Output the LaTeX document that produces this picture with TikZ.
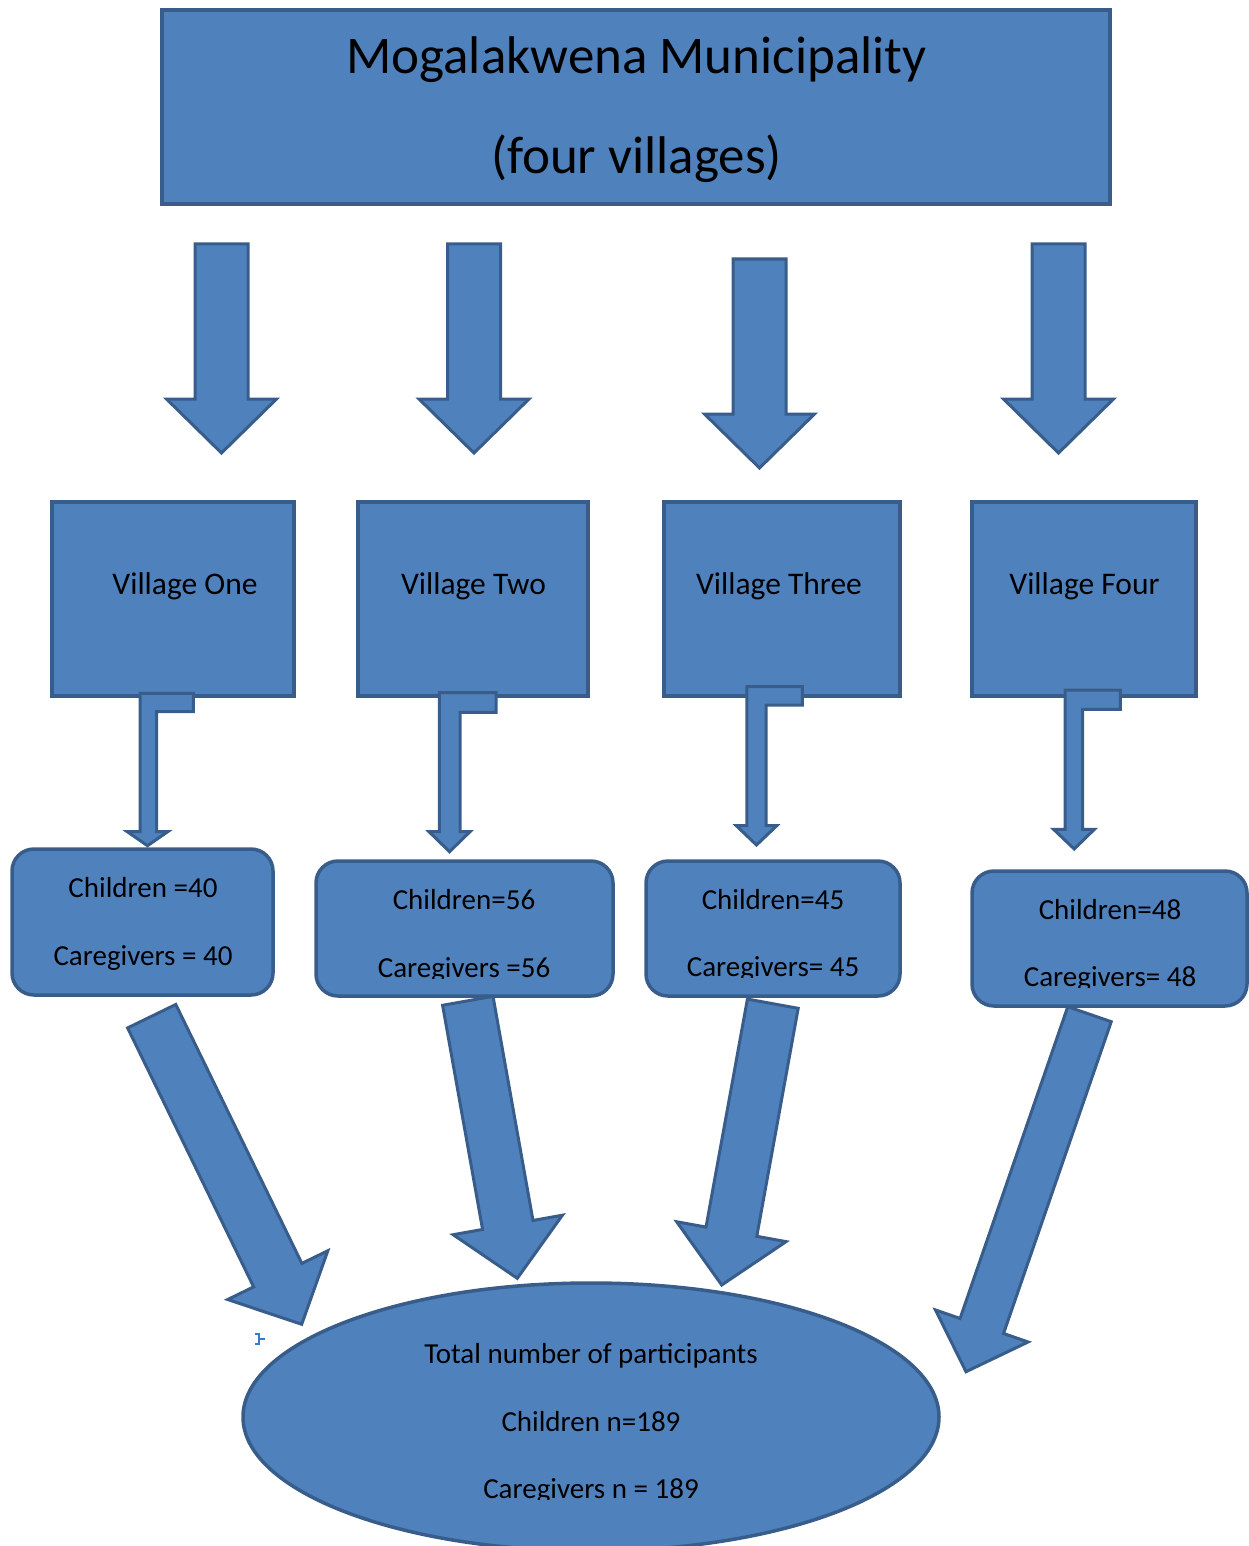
\documentclass[tikz,border=0pt]{standalone}
\usepackage{fontspec}
\setmainfont{Carlito}
\usetikzlibrary{shapes.geometric,calc}
\definecolor{boxfill}{HTML}{4F81BD}
\definecolor{boxline}{HTML}{385D8A}
\definecolor{anchorblue}{HTML}{3C78C8}
\tikzset{
  shapebox/.style={draw=boxline, fill=boxfill, line width=3.5pt, inner sep=0pt, outer sep=0pt},
  titlebox/.style={shapebox, rectangle, minimum width=948pt, minimum height=194pt},
  villagebox/.style={shapebox, rectangle, minimum height=194pt},
  countbox/.style={shapebox, rectangle, rounded corners=22pt, minimum height=135pt},
  totalell/.style={shapebox, ellipse, minimum width=696pt, minimum height=268pt},
  blockarr/.style={draw=boxline, fill=boxfill, line width=3pt, line join=miter},
  txt/.style={anchor=base, inner sep=0pt, text=black},
  bigtxt/.style={txt, font=\fontsize{53}{60}\selectfont},
  midtxt/.style={txt, font=\fontsize{31.5}{36}\selectfont},
  smalltxt/.style={txt, font=\fontsize{29}{34}\selectfont},
}
\newcommand\blockarrow[5]{%
  \coordinate (hb) at ($(#2)!#5!(#1)$);
  \draw[blockarr] ($(#1)!#3!90:(#2)$) -- ($(hb)!#3!90:(#2)$) -- ($(hb)!#4!90:(#2)$) -- (#2)
    -- ($(hb)!#4!-90:(#2)$) -- ($(hb)!#3!-90:(#2)$) -- ($(#1)!#3!-90:(#2)$) -- cycle;}
\begin{document}
\begin{tikzpicture}[x=1pt,y=-1pt]
\clip (0,0) rectangle (1249,1546);
\useasboundingbox (0,0) rectangle (1249,1546);

% title
\node[titlebox] (title) at (636,107) {};
\node[bigtxt] (title1) at (636.5,74) {Mogalakwena Municipality};
\node[bigtxt] (title2) at (636.5,174) {(four villages)};

% top arrows
\coordinate (s1) at (221.5,244); \coordinate (e1) at (221.5,453);
\coordinate (s2) at (474,244);   \coordinate (e2) at (474,453);
\coordinate (s3) at (759.5,259); \coordinate (e3) at (759.5,468);
\coordinate (s4) at (1058.5,244);\coordinate (e4) at (1058.5,453);
\blockarrow{s1}{e1}{26.5pt}{55pt}{54pt}
\blockarrow{s2}{e2}{26.5pt}{55pt}{54pt}
\blockarrow{s3}{e3}{26.5pt}{55pt}{54pt}
\blockarrow{s4}{e4}{26.5pt}{55pt}{54pt}

% village boxes
\node[villagebox, minimum width=242pt] (v1) at (173,599) {};
\node[villagebox, minimum width=230pt] (v2) at (473,599) {};
\node[villagebox, minimum width=236pt] (v3) at (782,599) {};
\node[villagebox, minimum width=224pt] (v4) at (1084,599) {};
\node[midtxt] (v1t) at (185,594) {Village One};
\node[midtxt] (v2t) at (473.5,594) {Village Two};
\node[midtxt] (v3t) at (779,594) {Village Three};
\node[midtxt] (v4t) at (1084.5,594) {Village Four};

% bent arrows
\draw[blockarr] (140,693.3) -- (193.3,693.3) -- (193.3,711.7) -- (156.7,711.7) -- (156.7,831.7)
  -- (167.7,831.7) -- (147.5,845.7) -- (127.3,831.7) -- (140,831.7) -- cycle;
\draw[blockarr] (439.3,692.7) -- (496,692.7) -- (496,712.3) -- (460,712.3) -- (460,831.7)
  -- (470,831.7) -- (449.5,851.7) -- (429,831.7) -- (439.3,831.7) -- cycle;
\draw[blockarr] (746.8,686.7) -- (802.3,686.7) -- (802.3,705) -- (766.2,705) -- (766.2,825.7)
  -- (776.7,825.7) -- (756.5,845) -- (736.3,825.7) -- (746.8,825.7) -- cycle;
\draw[blockarr] (1065.2,690) -- (1120.4,690) -- (1120.4,709.3) -- (1082.7,709.3) -- (1082.7,829.3)
  -- (1094.4,829.3) -- (1074.2,849) -- (1053.6,829.3) -- (1065.2,829.3) -- cycle;

% count boxes
\node[countbox, minimum width=261pt, minimum height=146pt] (c1) at (142.5,922) {};
\node[countbox, minimum width=297pt] (c2) at (464.5,928.5) {};
\node[countbox, minimum width=254pt] (c3) at (773,928.5) {};
\node[countbox, minimum width=275pt] (c4) at (1109.5,938.5) {};

\node[smalltxt] (c1a) at (143,897) {Children =40};
\node[smalltxt] (c1b) at (143,965) {Caregivers = 40};
\node[smalltxt] (c2a) at (464,909) {Children=56};
\begin{scope}
  \clip (320,930) rectangle (610,978);
  \node[smalltxt] (c2b) at (464,977) {Caregivers =56};
\end{scope}
\node[smalltxt] (c3a) at (773,909) {Children=45};
\begin{scope}
  \clip (650,930) rectangle (897,977);
  \node[smalltxt] (c3b) at (773,976) {Caregivers= 45};
\end{scope}
\node[smalltxt] (c4a) at (1110,919) {Children=48};
\begin{scope}
  \clip (976,940) rectangle (1244,987);
  \node[smalltxt] (c4b) at (1110,986) {Caregivers= 48};
\end{scope}

% total ellipse
\node[totalell] (total) at (591,1417) {};
\node[smalltxt] (tot1) at (591,1363) {Total number of participants};
\node[smalltxt] (tot2) at (591,1431) {Children n=189};
\begin{scope}
  \clip (400,1450) rectangle (800,1499);
  \node[smalltxt] (tot3) at (591,1498) {Caregivers n = 189};
\end{scope}

% lower arrows
\coordinate (d1s) at (151.7,1016.2);  \coordinate (d1e) at (301.7,1324.3);
\coordinate (d2s) at (467.8,1000.8);  \coordinate (d2e) at (517.3,1278.3);
\coordinate (d3s) at (772.8,1003.7);  \coordinate (d3e) at (721.7,1285);
\coordinate (d4s) at (1089.5,1014.2); \coordinate (d4e) at (966,1371.7);
\blockarrow{d1s}{d1e}{26.8pt}{55.7pt}{54.7pt}
\blockarrow{d2s}{d2e}{25.6pt}{55.5pt}{54.2pt}
\blockarrow{d3s}{d3e}{25.8pt}{55.6pt}{54.2pt}
\blockarrow{d4s}{d4e}{23pt}{49pt}{48.4pt}

% anchor mark
\draw[anchorblue, line width=1.5pt] (255,1334) -- (259,1334) -- (259,1344) -- (255,1344)
  (259,1339) -- (265,1339);
\end{tikzpicture}
\end{document}
